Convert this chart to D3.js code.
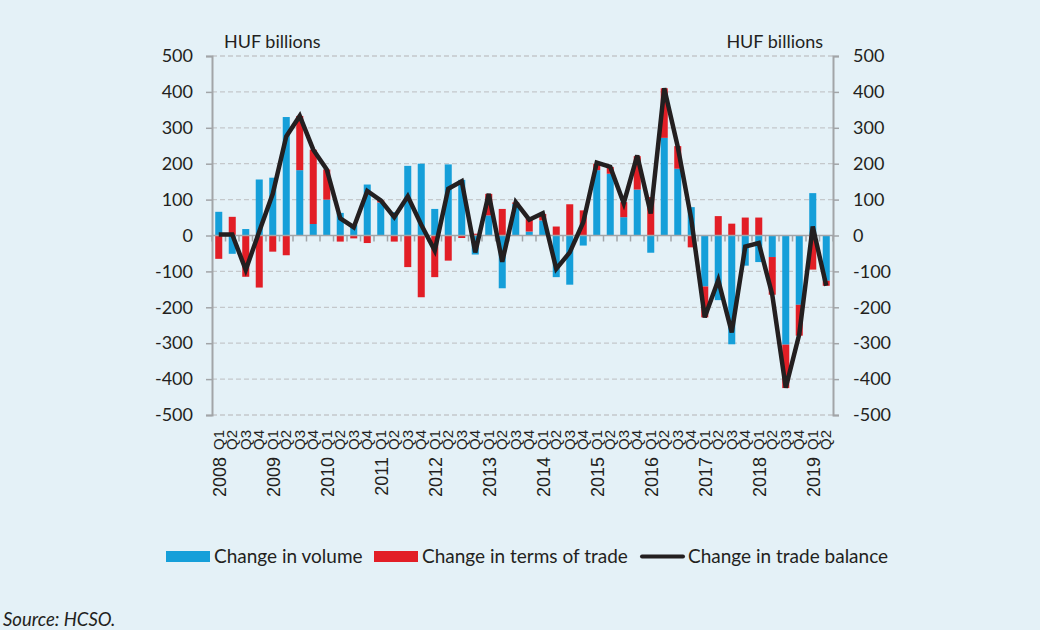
<!DOCTYPE html>
<html>
<head>
<meta charset="utf-8">
<script src="https://cdn.jsdelivr.net/npm/d3@7"></script>
<style>
  body { margin: 0; background: #e4f1f7; }
  svg { display: block; }
</style>
</head>
<body>
<svg id="chart" width="1040" height="630"></svg>
<script>
// quarters 2008 Q1 .. 2019 Q2
const years = ["2008","2009","2010","2011","2012","2013","2014","2015","2016","2017","2018","2019"];
const quarters = [];
years.forEach(y => ["Q1","Q2","Q3","Q4"].forEach(q => quarters.push(y + " " + q)));
quarters.splice(46);

const volume = [66, -51, 18, 156, 161, 330, 182, 32, 100, 63, 30, 142, 92, 65, 194, 200,
  74, 198, 155, -53, 56, -147, 88, 11, 42, -116, -137, -28, 182, 172, 51, 128,
  -48, 272, 186, 79, -142, -180, -303, -84, -74, -60, -304, -193, 118, -126];
const termsOfTrade = [-65, 52, -115, -145, -45, -55, 151, 207, 84, -17, -8, -21, 6, -17, -88, -172,
  -116, -70, -7, 5, 60, 74, 4, 36, 18, 25, 87, 70, 18, 19, 42, 93,
  107, 138, 63, -33, -86, 54, 33, 50, 50, -105, -121, -86, -95, -14];
const tradeBalance = [3, 3, -96, 11, 116, 276, 333, 239, 184, 48, 23, 124, 98, 51, 109, 30,
  -42, 130, 151, -47, 116, -73, 93, 44, 62, -93, -47, 37, 203, 191, 90, 223,
  61, 410, 247, 46, -228, -124, -270, -31, -21, -165, -424, -275, 25, -140];
const yTicks = [-500, -400, -300, -200, -100, 0, 100, 200, 300, 400, 500];

const seriesNames = ["Change in volume", "Change in terms of trade", "Change in trade balance"];
const colors = { vol: "#159fd9", tot: "#e21e26", bal: "#231f20" };
const labelFont = "Lato, 'Open Sans', sans-serif";

const svg = d3.select("#chart");
const plotLeft = 212, plotRight = 833, plotTop = 56, plotBottom = 415;

const x = d3.scaleBand().domain(d3.range(quarters.length)).range([plotLeft, plotRight]).paddingInner(0.48).paddingOuter(0.24);
const y = d3.scaleLinear().domain([-500, 500]).range([plotBottom, plotTop]);

// gridlines
svg.append("g")
  .selectAll("line")
  .data(yTicks.filter(d => d !== 0))
  .join("line")
    .attr("x1", plotLeft).attr("x2", plotRight)
    .attr("y1", d => y(d)).attr("y2", d => y(d))
    .attr("stroke", "#c4c8cb").attr("stroke-width", 1.3)
    .attr("stroke-dasharray", "5,3");

// stacked bars
const rows = quarters.map((q, i) => ({ i: i, vol: volume[i], tot: termsOfTrade[i] }));
const stacked = d3.stack().keys(["vol", "tot"]).offset(d3.stackOffsetDiverging)(rows);

svg.append("g")
  .selectAll("g")
  .data(stacked)
  .join("g")
    .attr("fill", d => colors[d.key])
  .selectAll("rect")
  .data(d => d)
  .join("rect")
    .attr("x", d => x(d.data.i))
    .attr("width", x.bandwidth())
    .attr("y", d => y(Math.max(d[0], d[1])))
    .attr("height", d => Math.abs(y(d[0]) - y(d[1])));

// zero line with category ticks
const zero = svg.append("g").attr("stroke", "#a2a5a8");
zero.append("line")
  .attr("x1", plotLeft).attr("x2", plotRight)
  .attr("y1", y(0)).attr("y2", y(0))
  .attr("stroke-width", 1.5);
zero.selectAll("line.tk")
  .data(d3.range(quarters.length + 1))
  .join("line")
    .attr("class", "tk")
    .attr("x1", k => plotLeft + k * x.step()).attr("x2", k => plotLeft + k * x.step())
    .attr("y1", y(0)).attr("y2", y(0) + 6)
    .attr("stroke-width", 1.5);

// trade balance line
const line = d3.line()
  .x((d, i) => x(i) + x.bandwidth() / 2)
  .y(d => y(d));

svg.append("path")
  .datum(tradeBalance)
  .attr("d", line)
  .attr("fill", "none")
  .attr("stroke", colors.bal)
  .attr("stroke-width", 4.5)
  .attr("stroke-linejoin", "miter");

// y axes, both sides (plain hyphen for negatives, like the original)
const fmt = d => String(d);
const axisL = d3.axisLeft(y).tickValues(yTicks).tickFormat(fmt).tickSize(6).tickPadding(13);
const axisR = d3.axisRight(y).tickValues(yTicks).tickFormat(fmt).tickSize(6).tickPadding(14);

[[axisL, plotLeft], [axisR, plotRight]].forEach(([ax, pos]) => {
  const g = svg.append("g")
    .attr("transform", `translate(${pos},0)`)
    .call(ax);
  g.select(".domain").attr("stroke", "#a2a5a8").attr("stroke-width", 2);
  g.selectAll(".tick line").attr("stroke", "#a2a5a8").attr("stroke-width", 1.5);
  g.selectAll(".tick text")
    .attr("fill", "#231f20")
    .style("font-family", labelFont)
    .style("font-size", "18px");
});

svg.append("text")
  .attr("x", 224).attr("y", 48)
  .style("font-family", labelFont).style("font-size", "18px")
  .attr("fill", "#231f20")
  .text("HUF billions");
svg.append("text")
  .attr("x", 823).attr("y", 48)
  .attr("text-anchor", "end")
  .style("font-family", labelFont).style("font-size", "18px")
  .attr("fill", "#231f20")
  .text("HUF billions");

// category labels, rotated
const xl = svg.append("g")
  .style("font-family", "'Liberation Sans', Arial, sans-serif")
  .attr("fill", "#231f20");
xl.selectAll("text.q")
  .data(quarters)
  .join("text")
    .attr("class", "q")
    .attr("transform", (d, i) => `translate(${x(i) + x.bandwidth() / 2 + 5},430) rotate(-90)`)
    .attr("text-anchor", "end")
    .style("font-size", "15px")
    .text(d => d.split(" ")[1]);
xl.selectAll("text.yr")
  .data(quarters.filter(d => d.endsWith("Q1")))
  .join("text")
    .attr("class", "yr")
    .attr("transform", d => {
      const i = quarters.indexOf(d);
      return `translate(${x(i) + x.bandwidth() / 2 + 7},457) rotate(-90)`;
    })
    .attr("text-anchor", "end")
    .style("font-size", "18px")
    .text(d => d.split(" ")[0]);

// legend
const legend = svg.append("g")
  .style("font-family", labelFont).style("font-size", "19px")
  .attr("fill", "#231f20");
const legendX = [166, 374, 640];
legend.append("rect").attr("x", legendX[0]).attr("y", 551).attr("width", 44).attr("height", 11).attr("fill", colors.vol);
legend.append("rect").attr("x", legendX[1]).attr("y", 551).attr("width", 44).attr("height", 11).attr("fill", colors.tot);
legend.append("line").attr("x1", legendX[2] + 2).attr("x2", legendX[2] + 43).attr("y1", 556.5).attr("y2", 556.5)
  .attr("stroke", colors.bal).attr("stroke-width", 4).attr("stroke-linecap", "round");
seriesNames.forEach((name, k) => {
  legend.append("text")
    .attr("x", legendX[k] + 48).attr("y", 563)
    .text(name);
});

svg.append("text")
  .attr("x", 3).attr("y", 626)
  .style("font-family", labelFont).style("font-size", "18.5px").style("font-style", "italic")
  .attr("fill", "#231f20")
  .text("Source: HCSO.");
</script>
</body>
</html>
